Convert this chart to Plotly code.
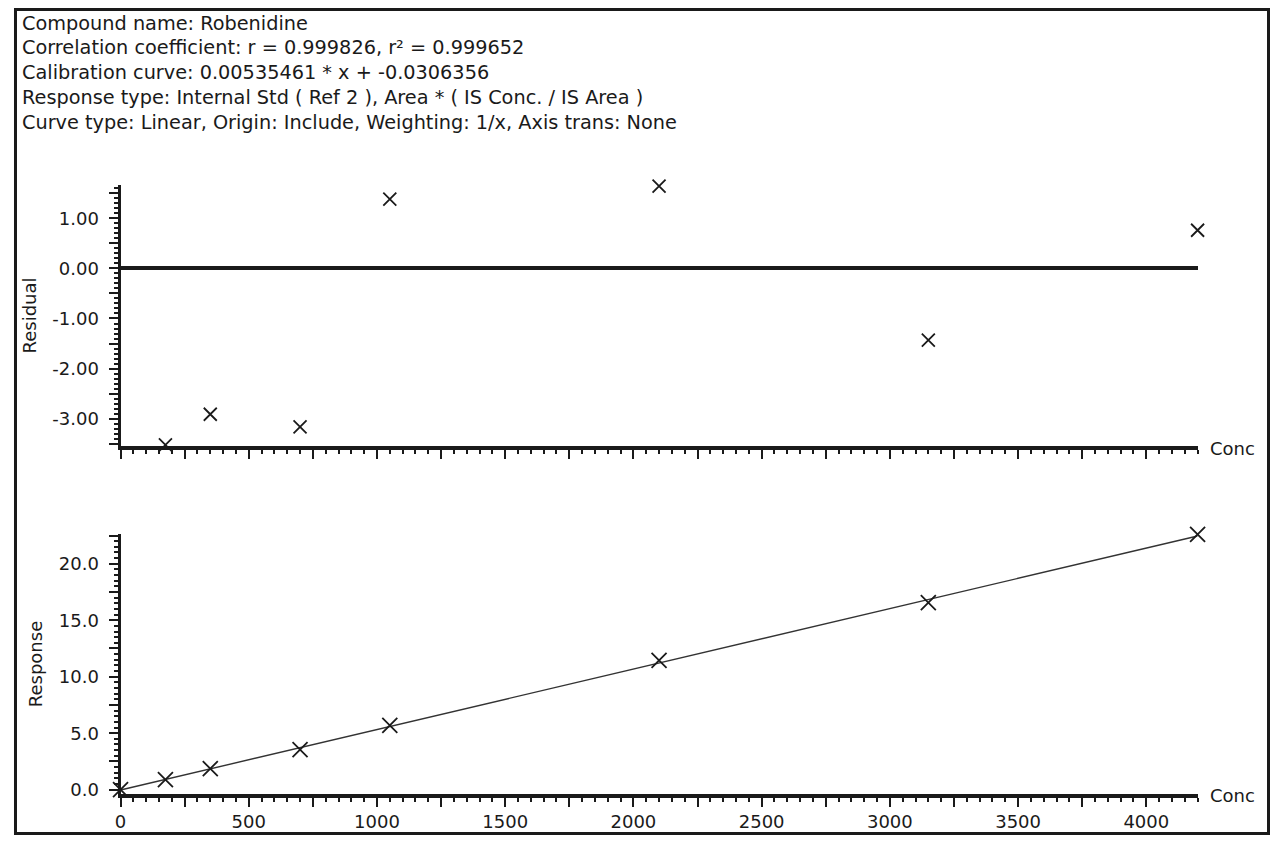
import plotly.graph_objects as go

# header text of the calibration report
info_lines = [
    "Compound name: Robenidine",
    "Correlation coefficient: r = 0.999826, r² = 0.999652",
    "Calibration curve: 0.00535461 * x + -0.0306356",
    "Response type: Internal Std ( Ref 2 ), Area * ( IS Conc. / IS Area )",
    "Curve type: Linear, Origin: Include, Weighting: 1/x, Axis trans: None",
]

# calibration levels
conc = [0, 175, 350, 700, 1050, 2100, 3150, 4200]
response = [0.0, 0.88, 1.86, 3.54, 5.69, 11.44, 16.57, 22.6]

residual_conc = [175, 350, 700, 1050, 2100, 3150, 4200]
residual = [-3.52, -2.91, -3.16, 1.38, 1.64, -1.43, 0.76]

# fitted curve (from the report text)
slope = 0.00535461
intercept = -0.0306356
fit_x = [0, 4200]
fit_y = [slope * x + intercept for x in fit_x]

# ticks
conc_tick_vals = [0, 250, 500, 750, 1000, 1250, 1500, 1750, 2000, 2250,
                  2500, 2750, 3000, 3250, 3500, 3750, 4000]
conc_tick_text = ["0", "", "500", "", "1000", "", "1500", "", "2000", "",
                  "2500", "", "3000", "", "3500", "", "4000"]
residual_tick_vals = [-3.5, -3.0, -2.5, -2.0, -1.5, -1.0, -0.5, 0.0, 0.5, 1.0, 1.5]
residual_tick_text = ["", "-3.00", "", "-2.00", "", "-1.00", "", "0.00", "", "1.00", ""]
response_tick_vals = [0, 2.5, 5, 7.5, 10, 12.5, 15, 17.5, 20, 22.5]
response_tick_text = ["0.0", "", "5.0", "", "10.0", "", "15.0", "", "20.0", ""]

INK = "#1a1a1a"
FONT = dict(family="DejaVu Sans, Verdana, sans-serif", size=18, color=INK)
HEAD_FONT = dict(family="DejaVu Sans, Verdana, sans-serif", size=19.3, color=INK)

# figure sits inside the page's body margin; positions below are given in
# screenshot pixels and mapped back to paper fractions
OFF = 8
W, H = 1262, 833


def px(x):
    return ((x - 5.5) / 0.9952 - OFF) / W


def py(y):
    return 1 - (9.5 + (y - 9.5) / 0.992 - OFF) / H


fig = go.Figure()

fig.add_trace(go.Scatter(
    x=residual_conc, y=residual, mode="markers",
    marker=dict(symbol="x-thin-open", size=13, color=INK, line=dict(width=1.8, color=INK)),
    xaxis="x", yaxis="y", cliponaxis=False, showlegend=False,
))
fig.add_trace(go.Scatter(
    x=fit_x, y=fit_y, mode="lines",
    line=dict(color="#333333", width=1.4),
    xaxis="x2", yaxis="y2", showlegend=False,
))
fig.add_trace(go.Scatter(
    x=conc, y=response, mode="markers",
    marker=dict(symbol="x-thin-open", size=15, color=INK, line=dict(width=1.8, color=INK)),
    xaxis="x2", yaxis="y2", cliponaxis=False, showlegend=False,
))

common_x = dict(
    range=[0, 4200], domain=[px(120), px(1197)], showgrid=False, zeroline=False,
    showline=True, linewidth=4, linecolor=INK,
    tickmode="array", tickvals=conc_tick_vals,
    ticks="outside", ticklen=9, tickwidth=2, tickcolor=INK,
    minor=dict(tick0=0, dtick=50, ticks="outside", ticklen=4, tickwidth=1.5, tickcolor=INK),
    tickfont=FONT,
)
common_y = dict(
    showgrid=False, showline=True, linewidth=3, linecolor=INK,
    tickmode="array", ticks="outside", ticklen=9, tickwidth=2, tickcolor=INK,
    tickfont=FONT, ticklabelstandoff=6,
)

fig.update_layout(
    width=W, height=H,
    margin=dict(l=0, r=0, t=0, b=0),
    paper_bgcolor="white", plot_bgcolor="white",
    xaxis=dict(common_x, anchor="y", ticktext=[""] * len(conc_tick_vals)),
    xaxis2=dict(common_x, anchor="y2", ticktext=conc_tick_text),
    yaxis=dict(
        common_y, anchor="x", domain=[py(446), py(184.5)], range=[-3.55, 1.67],
        tickvals=residual_tick_vals, ticktext=residual_tick_text,
        minor=dict(tick0=0, dtick=0.1, ticks="outside", ticklen=4, tickwidth=1.5, tickcolor=INK),
        zeroline=True, zerolinewidth=4, zerolinecolor=INK,
        title=dict(text="Residual", font=FONT, standoff=12),
    ),
    yaxis2=dict(
        common_y, anchor="x2", domain=[py(793), py(534)], range=[-0.35, 22.6],
        tickvals=response_tick_vals, ticktext=response_tick_text, zeroline=False,
        minor=dict(tick0=0, dtick=0.5, ticks="outside", ticklen=4, tickwidth=1.5, tickcolor=INK),
        title=dict(text="Response", font=FONT, standoff=12),
    ),
)

# "Conc" label at the end of each x axis
for yref in ["y domain", "y2 domain"]:
    fig.add_annotation(
        text="Conc", xref="x domain", yref=yref, x=1, y=0,
        xanchor="left", yanchor="middle", xshift=10, yshift=-2,
        showarrow=False, font=FONT,
    )

# header lines
for i, line in enumerate(info_lines):
    fig.add_annotation(
        text=line, xref="paper", yref="paper",
        x=px(19), y=py(23 + i * 24.75),
        xanchor="left", yanchor="middle", showarrow=False, font=HEAD_FONT,
    )

# frame around the whole report
fig.add_shape(
    type="rect", xref="paper", yref="paper",
    x0=1.5 / W, x1=1 - 1.5 / W, y0=1.5 / H, y1=1 - 1.5 / H,
    line=dict(color=INK, width=3),
)

fig.write_html("out.html")
